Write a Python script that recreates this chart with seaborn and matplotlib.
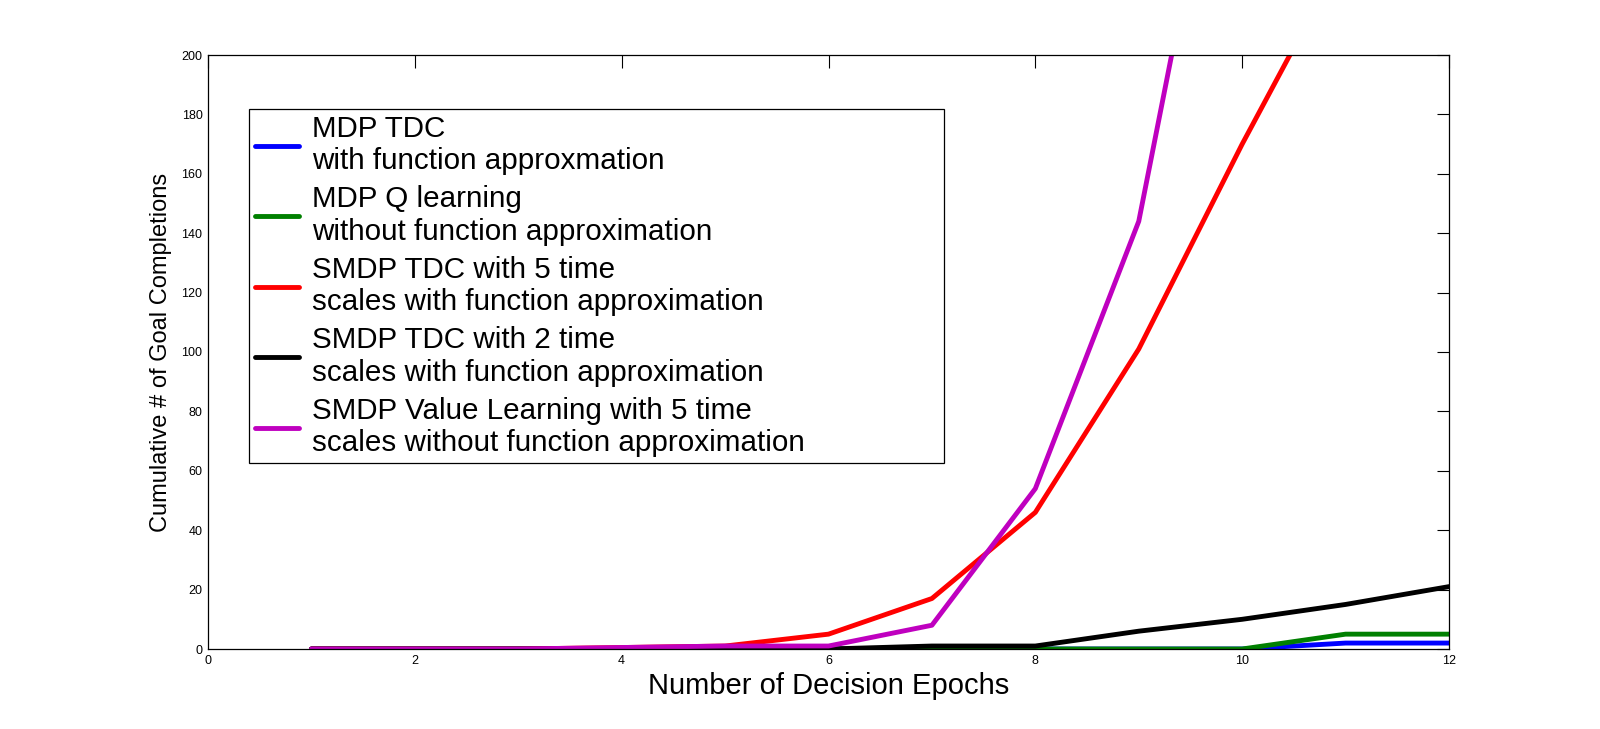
import seaborn as sns
import matplotlib
matplotlib.use('Agg')
import matplotlib.pyplot as plt
import numpy as np
import pandas as pd

epochs = [1, 2, 3, 4, 5, 6, 7, 8, 9, 10, 11, 12]

mdp_tdc = [0, 0, 0, 0, 0, 0, 0, 0, 0, 0, 2, 2]
mdp_q = [0, 0, 0, 0, 0, 0, 0, 0, 0, 0, 5, 5]
smdp_tdc_5 = [0, 0, 0, 0.5, 1, 5, 17, 46, 101, 170, 235, 320]
smdp_tdc_2 = [0, 0, 0, 0, 0, 0, 1, 1, 6, 10, 15, 21]
smdp_value_5 = [0, 0, 0, 0.5, 1, 1, 8, 54, 144, 320, 500, 700]

labels = [
    'MDP TDC\nwith function approxmation',
    'MDP Q learning\nwithout function approximation',
    'SMDP TDC with 5 time\nscales with function approximation',
    'SMDP TDC with 2 time\nscales with function approximation',
    'SMDP Value Learning with 5 time\nscales without function approximation',
]
colors = ['#0000ff', '#008000', '#ff0000', '#000000', '#bf00bf']

series = [mdp_tdc, mdp_q, smdp_tdc_5, smdp_tdc_2, smdp_value_5]
df = pd.concat([pd.DataFrame({'epoch': epochs, 'count': s, 'method': lab})
                for s, lab in zip(series, labels)], ignore_index=True)

sns.set_style('white')
plt.rcParams['font.family'] = ['Liberation Sans', 'DejaVu Sans']
plt.rcParams['text.color'] = 'black'
plt.rcParams['axes.labelcolor'] = 'black'

fig = plt.figure(figsize=(16, 7.29), dpi=100)
ax = fig.add_axes([208 / 1600, 1 - 649 / 729, 1241 / 1600, 594 / 729])

sns.lineplot(data=df, x='epoch', y='count', hue='method', hue_order=labels,
             palette=colors, linewidth=3.5, ax=ax)

ax.set_xlim(0, 12)
ax.set_ylim(0, 200)
ax.set_xticks(np.arange(0, 13, 2))
ax.set_yticks(np.arange(0, 201, 20))
ax.tick_params(direction='in', length=9, width=0.8, labelsize=9, pad=4,
               top=True, right=True, colors='black')
for sp in ax.spines.values():
    sp.set_color('black')
    sp.set_linewidth(0.9)

ax.set_xlabel('Number of Decision Epochs', fontsize=21, labelpad=4)
ax.set_ylabel('Cumulative # of Goal Completions', fontsize=17, labelpad=7)

leg = ax.legend(loc='upper left', bbox_to_anchor=(0.033, 0.0, 0.560, 0.909),
                mode='expand', borderaxespad=0, fontsize=21.3, frameon=True,
                fancybox=False, edgecolor='black', framealpha=1,
                handlelength=1.5, handletextpad=0.42, labelspacing=0.34,
                borderpad=0.2)
leg.get_frame().set_linewidth(0.9)

plt.savefig('out.png', dpi=100)
